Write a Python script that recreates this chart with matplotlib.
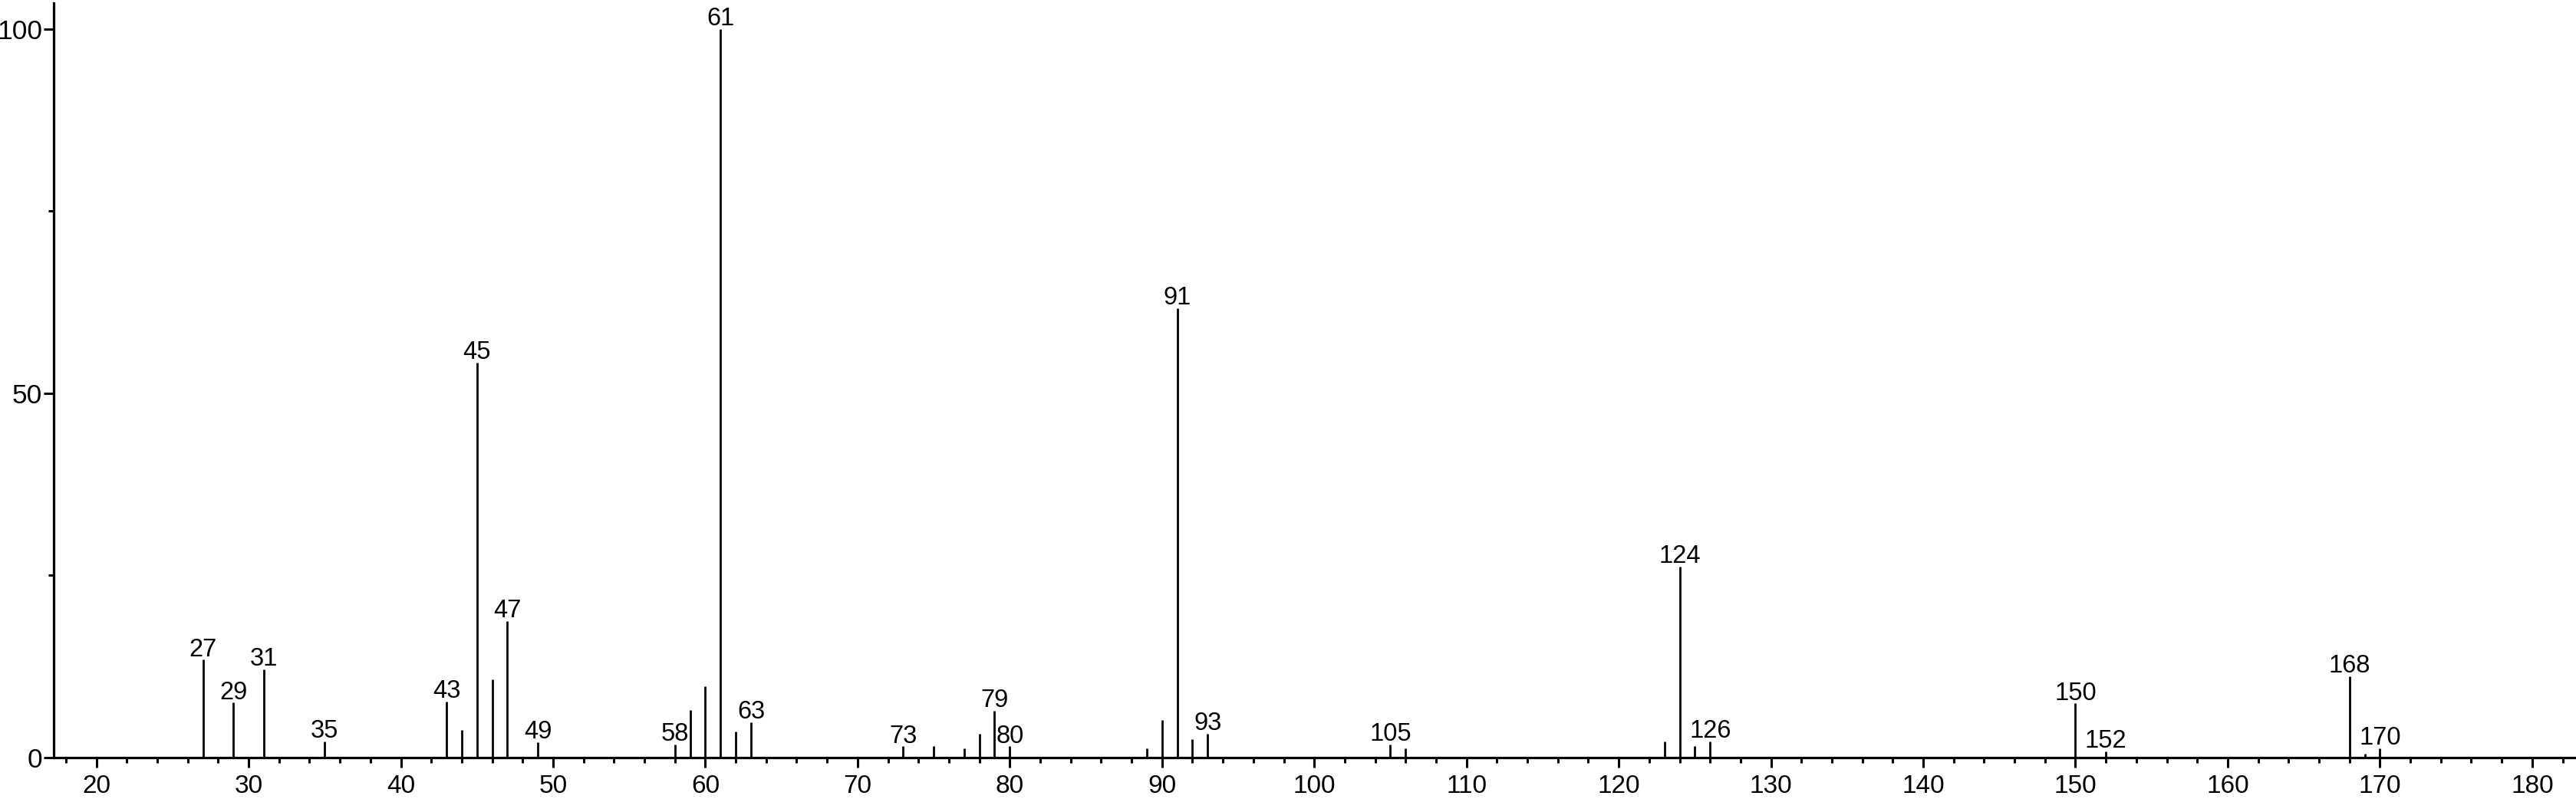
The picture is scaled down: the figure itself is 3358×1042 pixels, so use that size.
import matplotlib.pyplot as plt

plt.rcParams['font.family'] = ['Liberation Sans', 'DejaVu Sans']

# m/z values and relative intensities
mz = [27, 29, 31, 35, 43, 44, 45, 46, 47, 49,
      58, 59, 60, 61, 62, 63, 73, 75, 77, 78, 79, 80,
      89, 90, 91, 92, 93, 105, 106,
      123, 124, 125, 126, 150, 152, 168, 169, 170]
intensity = [13.4, 7.5, 12.1, 2.2, 7.7, 3.8, 54.2, 10.7, 18.7, 2.1,
             1.8, 6.5, 9.8, 100.0, 3.5, 4.8, 1.5, 1.5, 1.2, 3.2, 6.4, 1.5,
             1.2, 5.1, 61.7, 2.5, 3.2, 1.8, 1.2,
             2.2, 26.2, 1.5, 2.2, 7.4, 0.85, 11.1, 0.5, 1.2]

# peaks that carry a label
labelled = [27, 29, 31, 35, 43, 45, 47, 49, 58, 61, 63, 73, 79, 80,
            91, 93, 105, 124, 126, 150, 152, 168, 170]

x_ticks = list(range(20, 181, 10))
y_ticks = [0, 50, 100]

fig = plt.figure(figsize=(33.58, 10.42), dpi=100)
ax = fig.add_axes([0.0208, 0.0521, 0.9792, 0.9441])

ax.vlines(mz, 0, intensity, colors='black', linewidth=2.0)

# peak labels
for m, h in zip(mz, intensity):
    if m in labelled:
        ax.annotate(str(m), (m, h), xytext=(0, 3.5), textcoords='offset points',
                    ha='center', va='baseline', fontsize=23.5)

ax.set_xlim(17.19, 182.88)
ax.set_ylim(0, 103.55)

ax.set_xticks(x_ticks)
ax.set_xticks(range(18, 183, 2), minor=True)
ax.set_yticks(y_ticks)
ax.set_yticks([25, 75], minor=True)

ax.spines['top'].set_visible(False)
ax.spines['right'].set_visible(False)
ax.spines['left'].set_linewidth(2.3)
ax.spines['bottom'].set_linewidth(2.3)

ax.tick_params(which='major', length=9.2, width=2.2, direction='out')
ax.tick_params(which='minor', length=5, width=2.2, direction='out')
ax.tick_params(axis='x', which='major', pad=7, labelsize=24)
ax.tick_params(axis='y', which='major', pad=1.5, labelsize=25.5)

fig.savefig('out.png', dpi=100)
